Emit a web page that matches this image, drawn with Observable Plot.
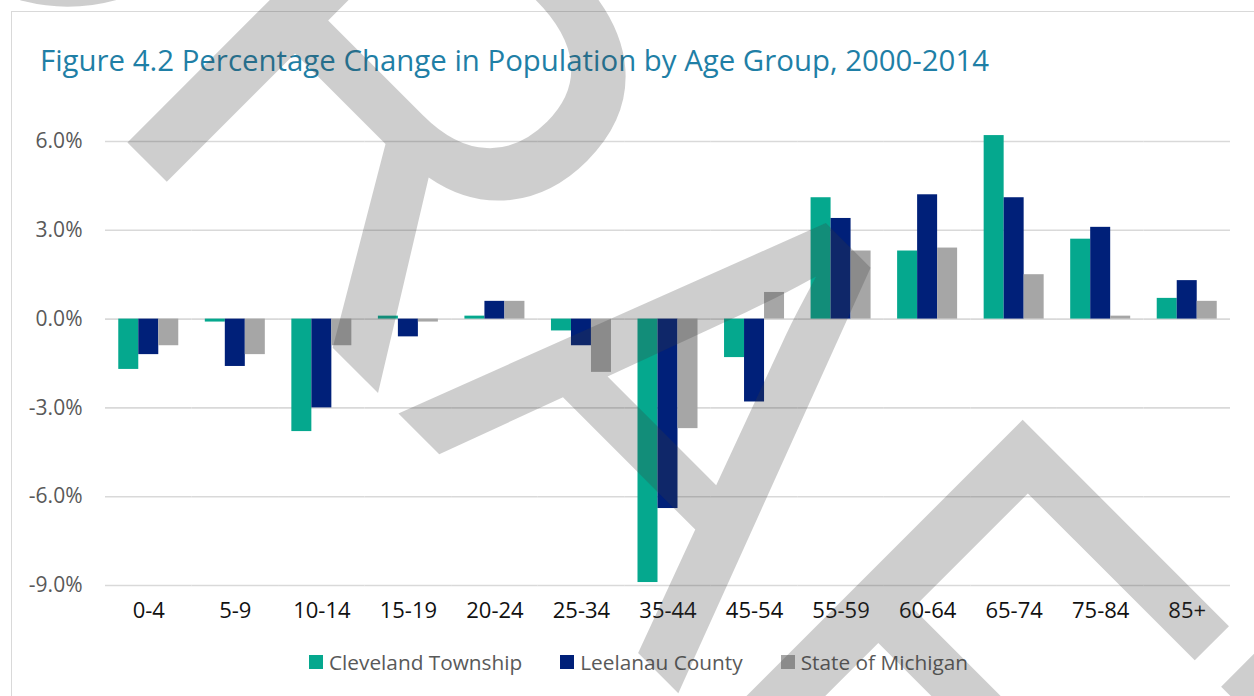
<!DOCTYPE html>
<html>
<head>
<meta charset="utf-8">
<script src="https://cdn.jsdelivr.net/npm/d3@7"></script>
<script src="https://cdn.jsdelivr.net/npm/@observablehq/plot@0.6"></script>
<style>
  html, body { margin: 0; padding: 0; background: #fff; }
  #wrap { position: relative; width: 1254px; height: 696px; overflow: hidden; font-family: "Open Sans", sans-serif; }
  #frame { position: absolute; left: 11px; top: 11px; width: 1300px; height: 720px; border: 1.5px solid #d9d9d9; box-sizing: border-box; }
  #title { position: absolute; left: 40px; top: 40px; font-size: 29.4px; color: #1f7fa6; white-space: nowrap; }
  #chart { position: absolute; left: 0; top: 0; }
  #legend { position: absolute; left: 309px; top: 648px; display: flex; align-items: center; font-size: 20.8px; color: #595959; white-space: nowrap; }
  #legend .item { display: flex; align-items: center; margin-right: 38px; }
  #legend .sw { width: 14px; height: 14px; margin-right: 6px; }
  #wm { position: absolute; left: 0; top: 0; pointer-events: none; }
</style>
</head>
<body>
<div id="wrap">
  <div id="frame"></div>
  <div id="chart"></div>
  <div id="title">Figure 4.2 Percentage Change in Population by Age Group, 2000-2014</div>
  <div id="legend"></div>
  <svg id="wm" width="1254" height="696">
    <text x="0" y="0" font-family="Liberation Sans" font-size="635" fill="#3d3d3d" fill-opacity="0.25"
      style="font-kerning:none" transform="translate(-212,-197) rotate(45) scale(0.94,1)">DRAFT</text>
  </svg>
</div>
<script>
const ages = ["0-4","5-9","10-14","15-19","20-24","25-34","35-44","45-54","55-59","60-64","65-74","75-84","85+"];
const seriesNames = ["Cleveland Township","Leelanau County","State of Michigan"];
const seriesColors = ["#05a88e","#002079","#a6a6a6"];
const cleveland = [-1.7,-0.1,-3.8,0.1,0.1,-0.4,-8.9,-1.3,4.1,2.3,6.2,2.7,0.7];
const leelanau  = [-1.2,-1.6,-3.0,-0.6,0.6,-0.9,-6.4,-2.8,3.4,4.2,4.1,3.1,1.3];
const michigan  = [-0.9,-1.2,-0.9,-0.1,0.6,-1.8,-3.7,0.9,2.3,2.4,1.5,0.1,0.6];
const yTicks = [-9,-6,-3,0,3,6];

const seriesValues = [cleveland, leelanau, michigan];
const data = ages.flatMap((age, i) => seriesNames.map((s, k) => ({age, series: s, value: seriesValues[k][i]})));

const chart = Plot.plot({
  width: 1254,
  height: 696,
  marginLeft: 105,
  marginRight: 24,
  marginTop: 141,
  marginBottom: 111,
  style: {fontFamily: "Open Sans", background: "transparent", fontSize: "20px"},
  fx: {domain: ages, paddingInner: 0, paddingOuter: 0, round: false, label: null},
  x: {domain: seriesNames, paddingInner: 0, paddingOuter: 0.6635, round: false, axis: null},
  y: {domain: [-9, 6], label: null},
  color: {domain: seriesNames, range: seriesColors},
  marks: [
    Plot.ruleY(yTicks, {stroke: "#d9d9d9", strokeWidth: 1.6}),
    Plot.barY(data, {fx: "age", x: "series", y1: 0, y2: "value", fill: "series"}),
    Plot.axisY(yTicks, {tickSize: 0, tickPadding: 23, tickFormat: d => d.toFixed(1) + "%", fill: "#595959", fontSize: 21, label: null}),
    Plot.axisFx({anchor: "bottom", tickSize: 0, tickPadding: 17, fill: "#111", fontSize: 22, label: null})
  ]
});
document.getElementById("chart").appendChild(chart);

const legend = document.getElementById("legend");
seriesNames.forEach((s, k) => {
  const item = document.createElement("div");
  item.className = "item";
  const sw = document.createElement("span");
  sw.className = "sw";
  sw.style.background = seriesColors[k];
  const t = document.createElement("span");
  t.textContent = s;
  item.appendChild(sw);
  item.appendChild(t);
  legend.appendChild(item);
});
</script>
</body>
</html>
